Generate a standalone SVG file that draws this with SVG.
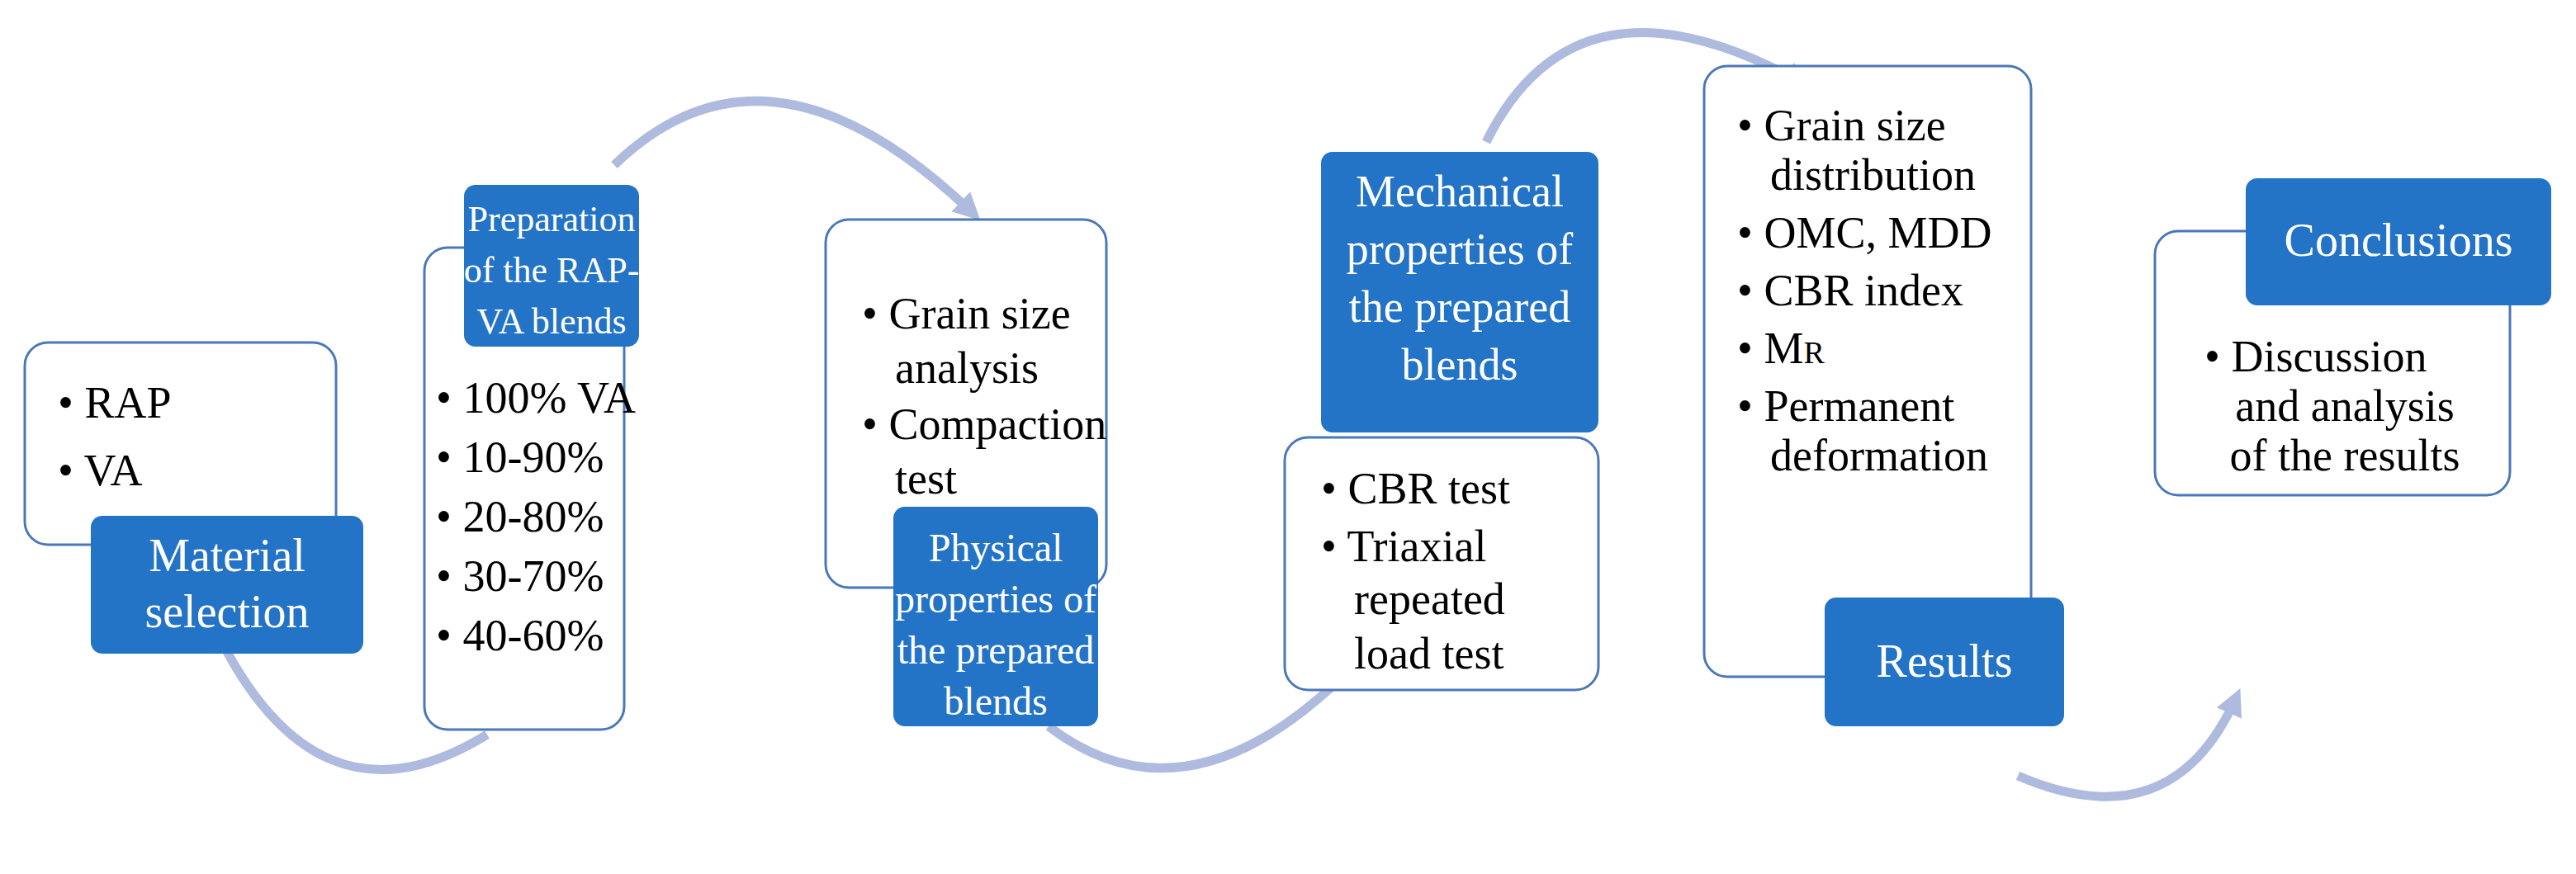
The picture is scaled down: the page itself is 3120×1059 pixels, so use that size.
<svg xmlns="http://www.w3.org/2000/svg" width="3120" height="1059" viewBox="0 0 3120 1059">
<style>
.w{fill:#fff;stroke:#4a78b8;stroke-width:3}
.b{fill:#2373c6;stroke:none}
.t{font-family:"Liberation Serif","DejaVu Serif",serif;font-size:54px}
.wt{fill:#fff;text-anchor:middle;font-size:48px}
.lg{font-size:56px}
.bt{fill:#000}
.arc{fill:none;stroke:#aebbdf;stroke-width:11}
</style>
<defs>
<marker id="ah" viewBox="0 0 10 10" refX="6" refY="5" markerWidth="3" markerHeight="3" orient="auto">
<path d="M0,0 L10,5 L0,10 z" fill="#aebbdf"/>
</marker>
</defs>
<rect width="3120" height="1059" fill="#fff"/>
<g id="connectors">
<path class="arc" d="M256,752 Q380,1020 590,890"/>
<path class="arc" d="M744,200 Q930,20 1178,258" marker-end="url(#ah)"/>
<path class="arc" d="M1270,880 Q1440,1010 1640,806" marker-end="url(#ah)"/>
<path class="arc" d="M1800,172 Q1910,-50 2182,100" marker-end="url(#ah)"/>
<path class="arc" d="M2444,940 Q2630,1020 2708,846" marker-end="url(#ah)"/>
</g>
<g id="n1">
<rect class="w" x="30" y="415" width="377" height="245" rx="28"/>
<text class="t bt" x="70" y="506">• RAP</text>
<text class="t bt" x="70" y="588">• VA</text>
<rect class="b" x="110" y="625" width="330" height="167" rx="14"/>
<text class="t wt lg" x="275" y="692">Material</text>
<text class="t wt lg" x="275" y="760">selection</text>
</g>
<g id="n2">
<rect class="w" x="514" y="300" width="242" height="584" rx="28"/>
<rect class="b" x="562" y="224" width="212" height="196" rx="14"/>
<text class="t wt" x="668" y="280" font-size="44" style="font-size:44px">Preparation</text>
<text class="t wt" x="668" y="342" style="font-size:44px">of the RAP-</text>
<text class="t wt" x="668" y="404" style="font-size:44px">VA blends</text>
<text class="t bt" x="528" y="500">• 100% VA</text>
<text class="t bt" x="528" y="572">• 10-90%</text>
<text class="t bt" x="528" y="644">• 20-80%</text>
<text class="t bt" x="528" y="716">• 30-70%</text>
<text class="t bt" x="528" y="788">• 40-60%</text>
</g>
<g id="n3">
<rect class="w" x="1000" y="266" width="340" height="446" rx="28"/>
<text class="t bt" x="1044" y="398">• Grain size</text>
<text class="t bt" x="1084" y="464">analysis</text>
<text class="t bt" x="1044" y="532">• Compaction</text>
<text class="t bt" x="1084" y="598">test</text>
<rect class="b" x="1082" y="614" width="248" height="266" rx="14"/>
<text class="t wt" x="1206" y="680">Physical</text>
<text class="t wt" x="1206" y="742">properties of</text>
<text class="t wt" x="1206" y="804">the prepared</text>
<text class="t wt" x="1206" y="866">blends</text>
</g>
<g id="n4">
<rect class="w" x="1556" y="530" width="380" height="306" rx="28"/>
<rect class="b" x="1600" y="184" width="336" height="340" rx="14"/>
<text class="t wt" x="1768" y="250" style="font-size:54px">Mechanical</text>
<text class="t wt" x="1768" y="320" style="font-size:54px">properties of</text>
<text class="t wt" x="1768" y="390" style="font-size:54px">the prepared</text>
<text class="t wt" x="1768" y="460" style="font-size:54px">blends</text>
<text class="t bt" x="1600" y="610">• CBR test</text>
<text class="t bt" x="1600" y="680">• Triaxial</text>
<text class="t bt" x="1640" y="744">repeated</text>
<text class="t bt" x="1640" y="810">load test</text>
</g>
<g id="n5">
<rect class="w" x="2064" y="80" width="396" height="740" rx="28"/>
<text class="t bt" x="2104" y="170">• Grain size</text>
<text class="t bt" x="2144" y="230">distribution</text>
<text class="t bt" x="2104" y="300">• OMC, MDD</text>
<text class="t bt" x="2104" y="370">• CBR index</text>
<text class="t bt" x="2104" y="440">• M<tspan font-size="38">R</tspan></text>
<text class="t bt" x="2104" y="510">• Permanent</text>
<text class="t bt" x="2144" y="570">deformation</text>
<rect class="b" x="2210" y="724" width="290" height="156" rx="14"/>
<text class="t wt lg" x="2355" y="820">Results</text>
</g>
<g id="n6">
<rect class="w" x="2610" y="280" width="430" height="320" rx="28"/>
<rect class="b" x="2720" y="216" width="370" height="154" rx="14"/>
<text class="t wt lg" x="2905" y="310">Conclusions</text>
<text class="t bt" x="2670" y="450">• Discussion</text>
<text class="t bt" x="2840" y="510" text-anchor="middle">and analysis</text>
<text class="t bt" x="2840" y="570" text-anchor="middle">of the results</text>
</g>
</svg>
